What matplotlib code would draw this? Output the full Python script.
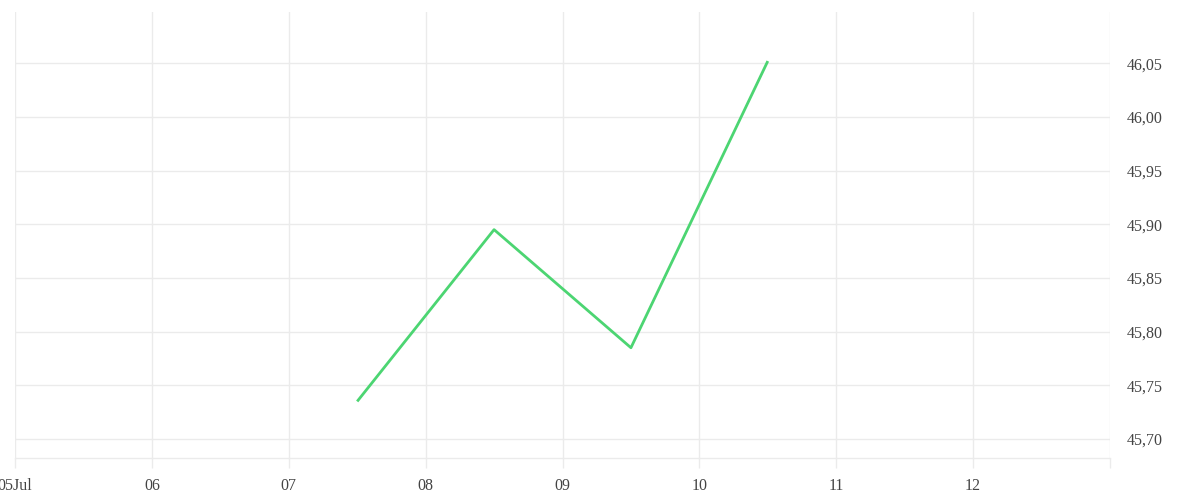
import matplotlib
matplotlib.use("Agg")
import matplotlib.pyplot as plt
import matplotlib.dates as mdates
import numpy as np
import datetime as dt

# Data
dates = [dt.datetime(2024, 7, 7, 12), dt.datetime(2024, 7, 8, 12),
         dt.datetime(2024, 7, 9, 12), dt.datetime(2024, 7, 10, 12)]
values = [45.735, 45.895, 45.785, 46.052]

day_ticks = [dt.datetime(2024, 7, d) for d in range(5, 14)]
day_labels = ["05Jul", "06", "07", "08", "09", "10", "11", "12", ""]
y_ticks = [45.70, 45.75, 45.80, 45.85, 45.90, 45.95, 46.00, 46.05]

grid_color = "#ebebeb"
text_color = "#444444"
plt.rcParams['font.family'] = ['Liberation Serif', 'DejaVu Serif']

fig = plt.figure(figsize=(12, 5), dpi=100)
ax = fig.add_axes([15/1200, 42/500, 1095/1200, 446/500])

ax.plot(dates, values, color="#4cd572", linewidth=2, solid_capstyle="butt", zorder=3)

ax.set_xlim(day_ticks[0], day_ticks[-1])
ax.set_ylim(45.6823, 46.0977)
ax.set_xticks(day_ticks)
ax.set_xticklabels(day_labels)
ax.set_yticks(y_ticks)
ax.set_yticklabels(["{:.2f}".format(v).replace(".", ",") for v in y_ticks])
ax.yaxis.tick_right()

ax.grid(True, color=grid_color, linewidth=1)
ax.tick_params(axis="x", length=7.5, color=grid_color, width=1, labelsize=11.5,
               labelcolor=text_color, pad=7)
ax.tick_params(axis="y", length=0, labelsize=11.5, labelcolor=text_color, pad=12)
for s in ["left", "right", "top"]:
    ax.spines[s].set_visible(False)
ax.spines["bottom"].set_color(grid_color)
ax.spines["bottom"].set_linewidth(1)

fig.savefig("out.png", dpi=100)
